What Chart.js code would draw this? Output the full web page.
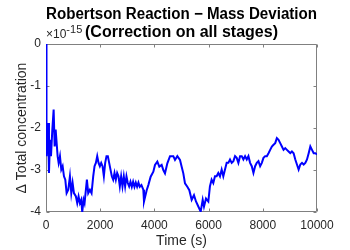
<!DOCTYPE html>
<html>
<head>
<meta charset="utf-8">
<script src="https://cdn.jsdelivr.net/npm/chart.js@4"></script>
<style>
  html, body { margin: 0; padding: 0; background: #fff; }
</style>
</head>
<body>
<canvas id="massChart" width="350" height="250"></canvas>
<script>
// time axis (s) and deviation in units of 1e-15
const timeS = [
  0, 12, 25, 74, 110, 147, 184, 233, 282, 319,
  356, 393, 429, 466, 515, 564, 614, 663, 712, 761,
  822, 883, 933, 982, 1031, 1104, 1153, 1202, 1252, 1301,
  1337, 1387, 1423, 1472, 1509, 1558, 1620, 1681, 1742, 1791,
  1840, 1890, 1939, 1988, 2037, 2086, 2135, 2184, 2233, 2282,
  2331, 2380, 2429, 2479, 2528, 2577, 2626, 2675, 2724, 2773,
  2822, 2871, 2920, 2969, 3018, 3068,
  3117, 3166, 3215, 3264, 3313, 3362, 3411, 3460, 3521, 3591,
  3616, 3715, 3776, 3862, 3961, 4022, 4108, 4182, 4268, 4329,
  4391, 4477, 4576, 4640, 4698, 4760, 4846, 4945, 5006, 5067,
  5129, 5215, 5289, 5375, 5461, 5535, 5621, 5708, 5782, 5830,
  5904, 5990, 6049,
  6111, 6173, 6235, 6296, 6358, 6420, 6482, 6543, 6605, 6667,
  6729, 6790, 6852, 6914, 6976, 7037, 7099, 7161, 7223, 7284,
  7346, 7408, 7470, 7531, 7593, 7655, 7717, 7778, 7840, 7902,
  7964, 8025, 8087, 8149, 8211, 8272, 8334, 8396, 8458, 8519,
  8581, 8643, 8705, 8766, 8828, 8890, 8952, 9013, 9075, 9137,
  9199, 9260, 9322, 9384, 9446, 9507, 9569, 9631, 9693, 9754,
  9816, 9878, 9940, 10000
];
const deltaConc = [
  0, -1.56, -2.67, -1.88, -3.07, -2.28, -2.67, -2.04, -1.56, -2.44,
  -2.04, -2.36, -2.67, -2.83, -2.67, -2.99, -2.91, -3.15, -3.23, -3.55,
  -3.47, -3.15, -3.55, -3.31, -3.55, -3.63, -3.79, -3.63, -3.79, -3.71,
  -4.0, -3.71, -3.79, -3.47, -3.23, -3.55, -3.47, -3.55, -3.15, -2.91,
  -2.83, -2.67, -2.83, -2.91, -2.83, -2.91, -3.15, -2.83, -2.67, -2.67,
  -2.83, -2.99, -3.15, -3.23, -3.07, -3.23, -3.07, -3.15, -3.39, -3.15,
  -3.39, -3.15, -3.39, -3.15, -3.31, -3.39,
  -3.28, -3.40, -3.28, -3.40, -3.30, -3.40, -3.30, -3.40, -3.36, -3.47,
  -3.75, -3.48, -3.36, -3.16, -3.04, -2.88, -2.80, -2.92, -2.88, -3.00,
  -3.08, -2.84, -2.67, -2.67, -2.67, -2.76, -2.67, -2.76, -2.92, -3.08,
  -3.32, -3.40, -3.48, -3.71, -3.60, -3.75, -3.87, -3.99, -3.71, -3.87,
  -3.68, -3.75, -3.39,
  -3.23, -3.31, -3.15, -3.15, -3.07, -3.15, -2.99, -3.15, -2.99, -2.83,
  -2.83, -2.75, -2.83, -2.79, -2.67, -2.71, -2.83, -2.67, -2.67, -2.75,
  -2.67, -2.75, -2.67, -2.83, -2.91, -3.07, -2.91, -2.83, -2.79, -2.91,
  -2.83, -2.71, -2.67, -2.67, -2.60, -2.52, -2.44, -2.40, -2.36, -2.24,
  -2.28, -2.36, -2.44, -2.52, -2.48, -2.52, -2.56, -2.60, -2.56, -2.60,
  -2.75, -2.87, -2.99, -2.87, -2.83, -2.87, -2.83, -2.75, -2.60, -2.44,
  -2.52, -2.60, -2.60, -2.63
];
const xTicks = [0, 2000, 4000, 6000, 8000, 10000];
const yTicks = [-4, -3, -2, -1, 0];
const titleLines = ['Robertson Reaction \u2212 Mass Deviation', '(Correction on all stages)'];

const FONT = "'Liberation Sans', Arial, Helvetica, sans-serif";
const TEXT = '#262626';

// box around the axes with inward ticks on all four sides (under the data),
// then the x10^-15 note on top
const axesBox = {
  id: 'axesBox',
  beforeDatasetsDraw(chart) {
    const { ctx, chartArea: a, scales: { x, y } } = chart;
    const L = Math.round(a.left) + 0.5, R = Math.round(a.right) - 0.5;
    const T = Math.round(a.top) + 0.5, B = Math.round(a.bottom) - 0.5;
    const tl = 3;
    ctx.save();
    ctx.strokeStyle = '#808080';
    ctx.lineWidth = 1;
    ctx.beginPath();
    ctx.rect(L, T, R - L, B - T);
    xTicks.forEach(v => {
      const px = Math.round(x.getPixelForValue(v)) + 0.5;
      ctx.moveTo(px, B); ctx.lineTo(px, B - tl);
      ctx.moveTo(px, T); ctx.lineTo(px, T + tl);
    });
    yTicks.forEach(v => {
      const py = Math.round(y.getPixelForValue(v)) + 0.5;
      ctx.moveTo(L, py); ctx.lineTo(L + tl, py);
      ctx.moveTo(R, py); ctx.lineTo(R - tl, py);
    });
    ctx.stroke();
    ctx.restore();
  },
  afterDraw(chart) {
    const { ctx, chartArea: a } = chart;
    ctx.save();
    ctx.fillStyle = TEXT;
    ctx.textBaseline = 'alphabetic';
    ctx.font = '12px ' + FONT;
    const base = '\u00d710';
    ctx.fillText(base, a.left, a.top - 6);
    const w = ctx.measureText(base).width;
    ctx.font = '11px ' + FONT;
    ctx.fillText('-15', a.left + w, a.top - 11);
    ctx.restore();
  }
};

new Chart(document.getElementById('massChart'), {
  type: 'line',
  data: {
    datasets: [{
      data: timeS.map((t, i) => ({ x: t, y: deltaConc[i] })),
      borderColor: '#0000ff',
      borderWidth: 2,
      pointRadius: 0,
      tension: 0,
      fill: false
    }]
  },
  options: {
    responsive: false,
    animation: false,
    devicePixelRatio: 1,
    layout: { padding: { left: 0, right: 33, top: 0, bottom: 0 } },
    plugins: {
      legend: { display: false },
      tooltip: { enabled: false },
      title: {
        display: true,
        fullSize: false,
        text: titleLines,
        color: '#000',
        font: { family: FONT, size: 16, weight: 'bold', lineHeight: 1.125 },
        padding: { top: 6, bottom: 2 }
      }
    },
    scales: {
      x: {
        type: 'linear',
        min: 0,
        max: 10000,
        afterBuildTicks: s => { s.ticks = xTicks.map(v => ({ value: v })); },
        afterFit: s => { s.height = 38; },
        grid: { display: false, drawTicks: false },
        border: { display: false },
        ticks: {
          color: TEXT,
          font: { family: FONT, size: 12 },
          padding: 6,
          maxRotation: 0,
          autoSkip: false,
          callback: v => String(v)
        },
        title: {
          display: true,
          text: 'Time (s)',
          color: TEXT,
          font: { family: FONT, size: 14 },
          padding: { top: 0, bottom: 0 }
        }
      },
      y: {
        type: 'linear',
        min: -4,
        max: 0,
        afterBuildTicks: s => { s.ticks = yTicks.map(v => ({ value: v })); },
        afterFit: s => { s.width = 46; },
        grid: { display: false, drawTicks: false },
        border: { display: false },
        ticks: {
          color: TEXT,
          font: { family: FONT, size: 12 },
          padding: 5,
          callback: v => String(v)
        },
        title: {
          display: true,
          text: '\u0394 Total concentration',
          color: TEXT,
          font: { family: FONT, size: 14 },
          padding: { top: 14, bottom: 0 }
        }
      }
    }
  },
  plugins: [axesBox]
});
</script>
</body>
</html>
